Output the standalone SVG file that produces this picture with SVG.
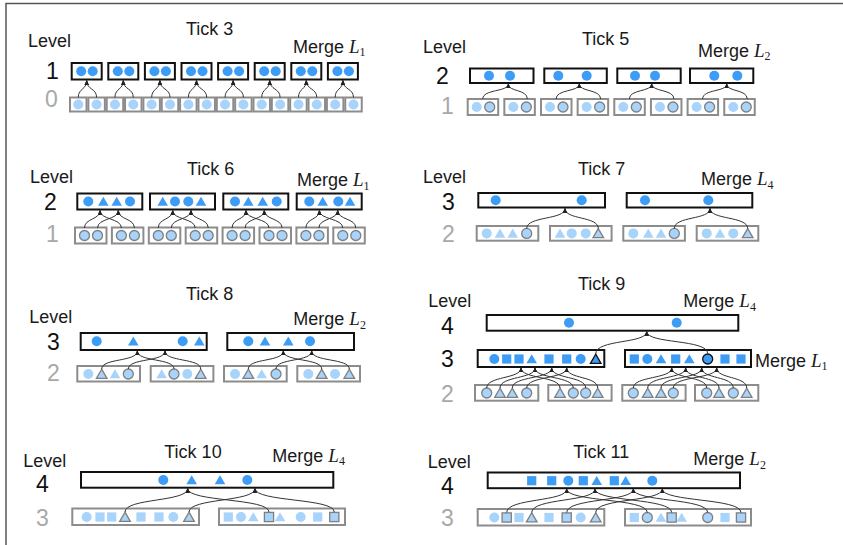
<svg xmlns="http://www.w3.org/2000/svg" width="843" height="545" viewBox="0 0 843 545">
<style>
.t{font-family:"Liberation Sans",Arial,sans-serif;font-size:18px;fill:#1a1a1a}
.m{font-family:"Liberation Serif","Times New Roman",serif;font-style:italic;font-size:19px}
.sb{font-family:"Liberation Serif","Times New Roman",serif;font-size:12px}
.n{font-family:"Liberation Sans",Arial,sans-serif;font-size:23px;fill:#111}
.ng{fill:#a8a8a8}
.bt{fill:#fff;stroke:#111;stroke-width:2}
.bl{fill:#fff;stroke:#8c8c8c;stroke-width:2}
.d{fill:#3d9cf5}
.ds{fill:#3d9cf5;stroke:#111;stroke-width:1.3}
.l{fill:#a8d3fb}
.ls{fill:#a8d3fb;stroke:#7f7f7f;stroke-width:1.3}
.cn{fill:none;stroke:#333;stroke-width:1;marker-end:url(#a)}
.fr{fill:none;stroke:#555;stroke-width:1.5}
</style>
<defs>
<marker id="a" viewBox="0 0 8 8" refX="7" refY="4" markerWidth="5" markerHeight="5" orient="auto" markerUnits="userSpaceOnUse"><path d="M0,0.5 L8,4 L0,7.5Z" fill="#222"/></marker>
<circle id="C" r="5"/>
<path id="T" d="M0,-4.8 L5.3,4.3 L-5.3,4.3Z"/>
<rect id="S" x="-4.6" y="-4.6" width="9.2" height="9.2"/>
</defs>
<path class="fr" d="M6,545 L6,3.5 L843,3.5"/>

<!-- Tick 3 -->
<g id="tick3-labels">
<text class="t" x="28" y="46.5">Level</text>
<text class="t" x="186" y="35">Tick 3</text>
<text class="t" x="293" y="52.5">Merge <tspan class="m">L</tspan><tspan class="sb" dy="3.5">1</tspan></text>
<text class="n" x="46" y="78.5">1</text>
<text class="n ng" x="45" y="107">0</text>
</g>
<g id="t3-L1-0"><rect class="bt" x="71.7" y="63" width="30" height="16.5"/><use href="#C" class="d" x="81.2" y="71.2"/><use href="#C" class="d" x="92.7" y="71.2"/></g>
<g id="t3-L1-1"><rect class="bt" x="108.3" y="63" width="30" height="16.5"/><use href="#C" class="d" x="117.8" y="71.2"/><use href="#C" class="d" x="129.3" y="71.2"/></g>
<g id="t3-L1-2"><rect class="bt" x="144.9" y="63" width="30" height="16.5"/><use href="#C" class="d" x="154.4" y="71.2"/><use href="#C" class="d" x="165.9" y="71.2"/></g>
<g id="t3-L1-3"><rect class="bt" x="181.5" y="63" width="30" height="16.5"/><use href="#C" class="d" x="191" y="71.2"/><use href="#C" class="d" x="202.5" y="71.2"/></g>
<g id="t3-L1-4"><rect class="bt" x="218.1" y="63" width="30" height="16.5"/><use href="#C" class="d" x="227.6" y="71.2"/><use href="#C" class="d" x="239.1" y="71.2"/></g>
<g id="t3-L1-5"><rect class="bt" x="254.7" y="63" width="30" height="16.5"/><use href="#C" class="d" x="264.2" y="71.2"/><use href="#C" class="d" x="275.7" y="71.2"/></g>
<g id="t3-L1-6"><rect class="bt" x="291.3" y="63" width="30" height="16.5"/><use href="#C" class="d" x="300.8" y="71.2"/><use href="#C" class="d" x="312.3" y="71.2"/></g>
<g id="t3-L1-7"><rect class="bt" x="327.9" y="63" width="30" height="16.5"/><use href="#C" class="d" x="337.4" y="71.2"/><use href="#C" class="d" x="348.9" y="71.2"/></g>
<g id="t3-L0">
<g id="t3-L0-0"><rect class="bl" x="70" y="97.5" width="16.5" height="14"/><use href="#C" class="l" x="78.25" y="104.5"/></g>
<g id="t3-L0-1"><rect class="bl" x="88.35" y="97.5" width="16.5" height="14"/><use href="#C" class="l" x="96.6" y="104.5"/></g>
<g id="t3-L0-2"><rect class="bl" x="106.7" y="97.5" width="16.5" height="14"/><use href="#C" class="l" x="114.95" y="104.5"/></g>
<g id="t3-L0-3"><rect class="bl" x="125.05" y="97.5" width="16.5" height="14"/><use href="#C" class="l" x="133.3" y="104.5"/></g>
<g id="t3-L0-4"><rect class="bl" x="143.4" y="97.5" width="16.5" height="14"/><use href="#C" class="l" x="151.65" y="104.5"/></g>
<g id="t3-L0-5"><rect class="bl" x="161.75" y="97.5" width="16.5" height="14"/><use href="#C" class="l" x="170" y="104.5"/></g>
<g id="t3-L0-6"><rect class="bl" x="180.1" y="97.5" width="16.5" height="14"/><use href="#C" class="l" x="188.35" y="104.5"/></g>
<g id="t3-L0-7"><rect class="bl" x="198.45" y="97.5" width="16.5" height="14"/><use href="#C" class="l" x="206.7" y="104.5"/></g>
<g id="t3-L0-8"><rect class="bl" x="216.8" y="97.5" width="16.5" height="14"/><use href="#C" class="l" x="225.05" y="104.5"/></g>
<g id="t3-L0-9"><rect class="bl" x="235.15" y="97.5" width="16.5" height="14"/><use href="#C" class="l" x="243.4" y="104.5"/></g>
<g id="t3-L0-10"><rect class="bl" x="253.5" y="97.5" width="16.5" height="14"/><use href="#C" class="l" x="261.75" y="104.5"/></g>
<g id="t3-L0-11"><rect class="bl" x="271.85" y="97.5" width="16.5" height="14"/><use href="#C" class="l" x="280.1" y="104.5"/></g>
<g id="t3-L0-12"><rect class="bl" x="290.2" y="97.5" width="16.5" height="14"/><use href="#C" class="l" x="298.45" y="104.5"/></g>
<g id="t3-L0-13"><rect class="bl" x="308.55" y="97.5" width="16.5" height="14"/><use href="#C" class="l" x="316.8" y="104.5"/></g>
<g id="t3-L0-14"><rect class="bl" x="326.9" y="97.5" width="16.5" height="14"/><use href="#C" class="l" x="335.15" y="104.5"/></g>
<g id="t3-L0-15"><rect class="bl" x="345.25" y="97.5" width="16.5" height="14"/><use href="#C" class="l" x="353.5" y="104.5"/></g>
</g>

<!-- Tick 5 -->
<g id="tick5-labels">
<text class="t" x="423" y="53.3">Level</text>
<text class="t" x="582" y="45">Tick 5</text>
<text class="t" x="698" y="56.7">Merge <tspan class="m">L</tspan><tspan class="sb" dy="3.5">2</tspan></text>
<text class="n" x="436" y="83.5">2</text>
<text class="n ng" x="441" y="113.5">1</text>
</g>
<g id="t5-L2-0"><rect class="bt" x="470" y="68.5" width="63.5" height="14.5"/><use href="#C" class="d" x="489" y="75.7"/><use href="#C" class="d" x="510" y="75.7"/></g>
<g id="t5-L2-1"><rect class="bt" x="544.3" y="68.5" width="62.5" height="14.5"/><use href="#C" class="d" x="558.3" y="75.7"/><use href="#C" class="d" x="586.7" y="75.7"/></g>
<g id="t5-L2-2"><rect class="bt" x="617.3" y="68.5" width="63.4" height="14.5"/><use href="#C" class="d" x="635" y="75.7"/><use href="#C" class="d" x="655" y="75.7"/></g>
<g id="t5-L2-3"><rect class="bt" x="690" y="68.5" width="63.3" height="14.5"/><use href="#C" class="d" x="714.3" y="75.7"/><use href="#C" class="d" x="737.3" y="75.7"/></g>
<g id="t5-L1-0"><rect class="bl" x="467.7" y="99" width="30.5" height="16"/><use href="#C" class="l" x="476.7" y="107"/><use href="#C" class="ls" x="489.7" y="107"/></g>
<g id="t5-L1-1"><rect class="bl" x="504.35" y="99" width="30.5" height="16"/><use href="#C" class="l" x="513.35" y="107"/><use href="#C" class="ls" x="526.35" y="107"/></g>
<g id="t5-L1-2"><rect class="bl" x="541" y="99" width="30.5" height="16"/><use href="#C" class="l" x="550" y="107"/><use href="#C" class="ls" x="563" y="107"/></g>
<g id="t5-L1-3"><rect class="bl" x="577.65" y="99" width="30.5" height="16"/><use href="#C" class="l" x="586.65" y="107"/><use href="#C" class="ls" x="599.65" y="107"/></g>
<g id="t5-L1-4"><rect class="bl" x="614.3" y="99" width="30.5" height="16"/><use href="#C" class="l" x="623.3" y="107"/><use href="#C" class="ls" x="636.3" y="107"/></g>
<g id="t5-L1-5"><rect class="bl" x="650.95" y="99" width="30.5" height="16"/><use href="#C" class="l" x="659.95" y="107"/><use href="#C" class="ls" x="672.95" y="107"/></g>
<g id="t5-L1-6"><rect class="bl" x="687.6" y="99" width="30.5" height="16"/><use href="#C" class="l" x="696.6" y="107"/><use href="#C" class="ls" x="709.6" y="107"/></g>
<g id="t5-L1-7"><rect class="bl" x="724.25" y="99" width="30.5" height="16"/><use href="#C" class="l" x="733.25" y="107"/><use href="#C" class="ls" x="746.25" y="107"/></g>

<!-- Tick 6 -->
<g id="tick6-labels">
<text class="t" x="30" y="183.3">Level</text>
<text class="t" x="187" y="175">Tick 6</text>
<text class="t" x="297" y="186">Merge <tspan class="m">L</tspan><tspan class="sb" dy="3.5">1</tspan></text>
<text class="n" x="44" y="210">2</text>
<text class="n ng" x="46" y="242">1</text>
</g>
<g id="t6-L2-0"><rect class="bt" x="77.3" y="193.5" width="65" height="16"/><use href="#C" class="d" x="88.3" y="201.5"/><use href="#T" class="d" x="103.3" y="201.5"/><use href="#T" class="d" x="116.7" y="201.5"/><use href="#C" class="d" x="130" y="201.5"/></g>
<g id="t6-L2-1"><rect class="bt" x="150" y="193.5" width="65" height="16"/><use href="#T" class="d" x="162.7" y="201.5"/><use href="#C" class="d" x="175" y="201.5"/><use href="#C" class="d" x="188.3" y="201.5"/><use href="#T" class="d" x="201" y="201.5"/></g>
<g id="t6-L2-2"><rect class="bt" x="223.3" y="193.5" width="65" height="16"/><use href="#C" class="d" x="235" y="201.5"/><use href="#T" class="d" x="248.3" y="201.5"/><use href="#T" class="d" x="262.7" y="201.5"/><use href="#C" class="d" x="276.7" y="201.5"/></g>
<g id="t6-L2-3"><rect class="bt" x="296.7" y="193.5" width="65" height="16"/><use href="#C" class="d" x="309.3" y="201.5"/><use href="#T" class="d" x="322.7" y="201.5"/><use href="#C" class="d" x="338.3" y="201.5"/><use href="#T" class="d" x="350" y="201.5"/></g>
<g id="t6-L1-0"><rect class="bl" x="75" y="227.5" width="31.5" height="16"/><use href="#C" class="ls" x="84.5" y="235.5"/><use href="#C" class="ls" x="97.5" y="235.5"/></g>
<g id="t6-L1-1"><rect class="bl" x="111.9" y="227.5" width="31.5" height="16"/><use href="#C" class="ls" x="121.4" y="235.5"/><use href="#C" class="ls" x="134.4" y="235.5"/></g>
<g id="t6-L1-2"><rect class="bl" x="148.8" y="227.5" width="31.5" height="16"/><use href="#C" class="ls" x="158.3" y="235.5"/><use href="#C" class="ls" x="171.3" y="235.5"/></g>
<g id="t6-L1-3"><rect class="bl" x="185.7" y="227.5" width="31.5" height="16"/><use href="#C" class="ls" x="195.2" y="235.5"/><use href="#C" class="ls" x="208.2" y="235.5"/></g>
<g id="t6-L1-4"><rect class="bl" x="222.6" y="227.5" width="31.5" height="16"/><use href="#C" class="ls" x="232.1" y="235.5"/><use href="#C" class="ls" x="245.1" y="235.5"/></g>
<g id="t6-L1-5"><rect class="bl" x="259.5" y="227.5" width="31.5" height="16"/><use href="#C" class="ls" x="269" y="235.5"/><use href="#C" class="ls" x="282" y="235.5"/></g>
<g id="t6-L1-6"><rect class="bl" x="296.4" y="227.5" width="31.5" height="16"/><use href="#C" class="ls" x="305.9" y="235.5"/><use href="#C" class="ls" x="318.9" y="235.5"/></g>
<g id="t6-L1-7"><rect class="bl" x="333.3" y="227.5" width="31.5" height="16"/><use href="#C" class="ls" x="342.8" y="235.5"/><use href="#C" class="ls" x="355.8" y="235.5"/></g>

<!-- Tick 7 -->
<g id="tick7-labels">
<text class="t" x="423" y="183.3">Level</text>
<text class="t" x="578" y="175">Tick 7</text>
<text class="t" x="701" y="185">Merge <tspan class="m">L</tspan><tspan class="sb" dy="3.5">4</tspan></text>
<text class="n" x="442" y="210">3</text>
<text class="n ng" x="442" y="242">2</text>
</g>
<g id="t7-L3-0"><rect class="bt" x="478.3" y="193" width="126.7" height="14.5"/><use href="#C" class="d" x="495.7" y="200.2"/><use href="#C" class="d" x="581.7" y="200.2"/></g>
<g id="t7-L3-1"><rect class="bt" x="626.7" y="193" width="125.6" height="14.5"/><use href="#C" class="d" x="645" y="200.2"/><use href="#C" class="d" x="708.3" y="200.2"/></g>
<g id="t7-L2-0"><rect class="bl" x="476.7" y="226" width="61.6" height="14.7"/><use href="#C" class="l" x="486.7" y="233.4"/><use href="#T" class="l" x="500" y="233.4"/><use href="#T" class="l" x="512.7" y="233.4"/><use href="#C" class="ls" x="526.7" y="233.4"/></g>
<g id="t7-L2-1"><rect class="bl" x="550" y="226" width="61.6" height="14.7"/><use href="#T" class="l" x="560" y="233.4"/><use href="#C" class="l" x="571.7" y="233.4"/><use href="#C" class="l" x="585.7" y="233.4"/><use href="#T" class="ls" x="598.3" y="233.4"/></g>
<g id="t7-L2-2"><rect class="bl" x="623.3" y="226" width="61.6" height="14.7"/><use href="#C" class="l" x="633.3" y="233.4"/><use href="#T" class="l" x="648.3" y="233.4"/><use href="#T" class="l" x="661" y="233.4"/><use href="#C" class="ls" x="674.3" y="233.4"/></g>
<g id="t7-L2-3"><rect class="bl" x="696.7" y="226" width="61.6" height="14.7"/><use href="#C" class="l" x="706.7" y="233.4"/><use href="#T" class="l" x="720" y="233.4"/><use href="#C" class="l" x="733.3" y="233.4"/><use href="#T" class="ls" x="747.7" y="233.4"/></g>

<!-- Tick 8 -->
<g id="tick8-labels">
<text class="t" x="186" y="300">Tick 8</text>
<text class="t" x="29.3" y="323.3">Level</text>
<text class="t" x="293.3" y="325">Merge <tspan class="m">L</tspan><tspan class="sb" dy="3.5">2</tspan></text>
<text class="n" x="47" y="350">3</text>
<text class="n ng" x="47" y="381">2</text>
</g>
<g id="t8-L3-0"><rect class="bt" x="80.7" y="333" width="126" height="17"/><use href="#C" class="d" x="96.7" y="341.3"/><use href="#T" class="d" x="133.3" y="341.3"/><use href="#C" class="d" x="182.7" y="341.3"/><use href="#T" class="d" x="199.3" y="341.3"/></g>
<g id="t8-L3-1"><rect class="bt" x="227.3" y="333" width="126.7" height="17"/><use href="#C" class="d" x="248.3" y="341.3"/><use href="#T" class="d" x="265" y="341.3"/><use href="#T" class="d" x="288.3" y="341.3"/><use href="#C" class="d" x="310" y="341.3"/></g>
<g id="t8-L2-0"><rect class="bl" x="77.3" y="366" width="62.7" height="15.5"/><use href="#C" class="l" x="88.3" y="374"/><use href="#T" class="ls" x="101.7" y="374"/><use href="#T" class="l" x="115" y="374"/><use href="#C" class="ls" x="128.3" y="374"/></g>
<g id="t8-L2-1"><rect class="bl" x="150.7" y="366" width="62.7" height="15.5"/><use href="#T" class="l" x="161.7" y="374"/><use href="#C" class="ls" x="174" y="374"/><use href="#C" class="l" x="187.3" y="374"/><use href="#T" class="ls" x="200.7" y="374"/></g>
<g id="t8-L2-2"><rect class="bl" x="224" y="366" width="62.7" height="15.5"/><use href="#C" class="l" x="235" y="374"/><use href="#T" class="ls" x="248.3" y="374"/><use href="#T" class="l" x="261.7" y="374"/><use href="#C" class="ls" x="276" y="374"/></g>
<g id="t8-L2-3"><rect class="bl" x="297.3" y="366" width="62.7" height="15.5"/><use href="#C" class="l" x="308.3" y="374"/><use href="#T" class="ls" x="321.7" y="374"/><use href="#C" class="l" x="335" y="374"/><use href="#T" class="ls" x="349.3" y="374"/></g>

<!-- Tick 9 -->
<g id="tick9-labels">
<text class="t" x="578" y="290">Tick 9</text>
<text class="t" x="428.3" y="307.3">Level</text>
<text class="t" x="683.3" y="307.3">Merge <tspan class="m">L</tspan><tspan class="sb" dy="3.5">4</tspan></text>
<text class="t" x="755" y="366.7">Merge <tspan class="m">L</tspan><tspan class="sb" dy="3.5">1</tspan></text>
<text class="n" x="441" y="333.5">4</text>
<text class="n" x="441" y="367">3</text>
<text class="n ng" x="441" y="402">2</text>
</g>
<g id="t9-L4"><rect class="bt" x="486.7" y="315" width="251.6" height="15.7"/><use href="#C" class="d" x="569" y="322.8"/><use href="#C" class="d" x="676.7" y="322.8"/></g>
<g id="t9-L3-0"><rect class="bt" x="477.7" y="350" width="126.6" height="17"/><use href="#C" class="d" x="494.3" y="359"/><use href="#S" class="d" x="506.7" y="359"/><use href="#S" class="d" x="519" y="359"/><use href="#T" class="d" x="531.7" y="359"/><use href="#S" class="d" x="549" y="359"/><use href="#S" class="d" x="566.7" y="359"/><use href="#C" class="d" x="580.7" y="359"/><use href="#T" class="ds" x="595.7" y="359"/></g>
<g id="t9-L3-1"><rect class="bt" x="625" y="350" width="126" height="17"/><use href="#S" class="d" x="634.3" y="359"/><use href="#C" class="d" x="647.3" y="359"/><use href="#T" class="d" x="661" y="359"/><use href="#S" class="d" x="675.7" y="359"/><use href="#T" class="d" x="689.3" y="359"/><use href="#C" class="ds" x="707.7" y="359"/><use href="#S" class="d" x="725" y="359"/><use href="#S" class="d" x="741" y="359"/></g>
<g id="t9-L2-0"><rect class="bl" x="475" y="385" width="63.3" height="15.7"/><use href="#C" class="ls" x="486.7" y="393"/><use href="#T" class="ls" x="500" y="393"/><use href="#T" class="ls" x="512.3" y="393"/><use href="#C" class="ls" x="526.7" y="393"/></g>
<g id="t9-L2-1"><rect class="bl" x="548.3" y="385" width="63.3" height="15.7"/><use href="#T" class="ls" x="560" y="393"/><use href="#C" class="ls" x="573.3" y="393"/><use href="#C" class="ls" x="585.7" y="393"/><use href="#T" class="ls" x="597.7" y="393"/></g>
<g id="t9-L2-2"><rect class="bl" x="622.3" y="385" width="63.3" height="15.7"/><use href="#C" class="ls" x="633.3" y="393"/><use href="#T" class="ls" x="647.7" y="393"/><use href="#T" class="ls" x="661" y="393"/><use href="#C" class="ls" x="673.3" y="393"/></g>
<g id="t9-L2-3"><rect class="bl" x="695" y="385" width="63.3" height="15.7"/><use href="#C" class="ls" x="706.7" y="393"/><use href="#T" class="ls" x="719" y="393"/><use href="#C" class="ls" x="733.3" y="393"/><use href="#T" class="ls" x="746.7" y="393"/></g>

<!-- Tick 10 -->
<g id="tick10-labels">
<text class="t" x="164.3" y="458.3">Tick 10</text>
<text class="t" x="23.3" y="466.7">Level</text>
<text class="t" x="272.3" y="461.7">Merge <tspan class="m">L</tspan><tspan class="sb" dy="3.5">4</tspan></text>
<text class="n" x="36" y="492">4</text>
<text class="n ng" x="36" y="525.5">3</text>
</g>
<g id="t10-L4"><rect class="bt" x="81" y="472" width="252.3" height="15.7"/><use href="#C" class="d" x="163.3" y="480"/><use href="#T" class="d" x="191.7" y="480"/><use href="#T" class="d" x="220" y="480"/><use href="#C" class="d" x="247.3" y="480"/></g>
<g id="t10-L3-0"><rect class="bl" x="72.3" y="508.5" width="126.7" height="16.5"/><use href="#C" class="l" x="86.7" y="517"/><use href="#S" class="l" x="100" y="517"/><use href="#S" class="l" x="111.7" y="517"/><use href="#T" class="ls" x="125" y="517"/><use href="#S" class="l" x="141" y="517"/><use href="#S" class="l" x="159" y="517"/><use href="#C" class="l" x="173.3" y="517"/><use href="#T" class="ls" x="189" y="517"/></g>
<g id="t10-L3-1"><rect class="bl" x="219" y="508.5" width="126" height="16.5"/><use href="#S" class="l" x="228.3" y="517"/><use href="#C" class="l" x="241" y="517"/><use href="#T" class="l" x="253.3" y="517"/><use href="#S" class="ls" x="269" y="517"/><use href="#T" class="l" x="280" y="517"/><use href="#C" class="l" x="300.7" y="517"/><use href="#S" class="l" x="317.7" y="517"/><use href="#S" class="ls" x="334.3" y="517"/></g>

<!-- Tick 11 -->
<g id="tick11-labels">
<text class="t" x="573.3" y="458.3">Tick 11</text>
<text class="t" x="427.7" y="468.3">Level</text>
<text class="t" x="693.3" y="465">Merge <tspan class="m">L</tspan><tspan class="sb" dy="3.5">2</tspan></text>
<text class="n" x="441" y="493.5">4</text>
<text class="n ng" x="441" y="526">3</text>
</g>
<g id="t11-L4"><rect class="bt" x="487.7" y="472.5" width="252.3" height="15.7"/><use href="#S" class="d" x="531.7" y="480.7"/><use href="#S" class="d" x="551.7" y="480.7"/><use href="#C" class="d" x="568.3" y="480.7"/><use href="#S" class="d" x="583.3" y="480.7"/><use href="#T" class="d" x="596.7" y="480.7"/><use href="#S" class="d" x="614.3" y="480.7"/><use href="#T" class="d" x="625.7" y="480.7"/><use href="#C" class="d" x="652.3" y="480.7"/></g>
<g id="t11-L3-0"><rect class="bl" x="477.7" y="509" width="126.6" height="16.5"/><use href="#C" class="l" x="494.3" y="517.5"/><use href="#S" class="ls" x="506.7" y="517.5"/><use href="#S" class="l" x="519" y="517.5"/><use href="#T" class="ls" x="531.7" y="517.5"/><use href="#S" class="l" x="549" y="517.5"/><use href="#S" class="ls" x="566.7" y="517.5"/><use href="#C" class="l" x="580.7" y="517.5"/><use href="#T" class="ls" x="595.7" y="517.5"/></g>
<g id="t11-L3-1"><rect class="bl" x="625" y="509" width="126" height="16.5"/><use href="#S" class="l" x="634.3" y="517.5"/><use href="#C" class="ls" x="647.3" y="517.5"/><use href="#T" class="l" x="661" y="517.5"/><use href="#S" class="ls" x="671.7" y="517.5"/><use href="#T" class="l" x="681.7" y="517.5"/><use href="#C" class="ls" x="707.7" y="517.5"/><use href="#S" class="l" x="725" y="517.5"/><use href="#S" class="ls" x="741" y="517.5"/></g>

<g id="connectors">
<!-- tick 3 -->
<path class="cn" d="M78.25,97.5 C78.25,88 86.7,90 86.7,80.5"/><path class="cn" d="M96.6,97.5 C96.6,88 86.7,90 86.7,80.5"/>
<path class="cn" d="M114.95,97.5 C114.95,88 123.3,90 123.3,80.5"/><path class="cn" d="M133.3,97.5 C133.3,88 123.3,90 123.3,80.5"/>
<path class="cn" d="M151.65,97.5 C151.65,88 159.9,90 159.9,80.5"/><path class="cn" d="M170,97.5 C170,88 159.9,90 159.9,80.5"/>
<path class="cn" d="M188.35,97.5 C188.35,88 196.5,90 196.5,80.5"/><path class="cn" d="M206.7,97.5 C206.7,88 196.5,90 196.5,80.5"/>
<path class="cn" d="M225.05,97.5 C225.05,88 233.1,90 233.1,80.5"/><path class="cn" d="M243.4,97.5 C243.4,88 233.1,90 233.1,80.5"/>
<path class="cn" d="M261.75,97.5 C261.75,88 269.7,90 269.7,80.5"/><path class="cn" d="M280.1,97.5 C280.1,88 269.7,90 269.7,80.5"/>
<path class="cn" d="M298.45,97.5 C298.45,88 306.3,90 306.3,80.5"/><path class="cn" d="M316.8,97.5 C316.8,88 306.3,90 306.3,80.5"/>
<path class="cn" d="M335.15,97.5 C335.15,88 342.9,90 342.9,80.5"/><path class="cn" d="M353.5,97.5 C353.5,88 342.9,90 342.9,80.5"/>
<!-- tick 5 -->
<path class="cn" d="M482.7,99 C482.7,89 508.3,92 508.3,84"/><path class="cn" d="M527.35,99 C527.35,89 508.3,92 508.3,84"/>
<path class="cn" d="M556,99 C556,89 579.3,92 579.3,84"/><path class="cn" d="M600.65,99 C600.65,89 579.3,92 579.3,84"/>
<path class="cn" d="M629.3,99 C629.3,89 651.7,92 651.7,84"/><path class="cn" d="M673.95,99 C673.95,89 651.7,92 651.7,84"/>
<path class="cn" d="M702.6,99 C702.6,89 726.7,92 726.7,84"/><path class="cn" d="M747.25,99 C747.25,89 726.7,92 726.7,84"/>
<!-- tick 6 -->
<path class="cn" d="M84.5,228 C84.5,218 100,220 100,210.5"/><path class="cn" d="M121.4,228 C121.4,218 100,220 100,210.5"/>
<path class="cn" d="M97.5,228 C97.5,218 118.3,220 118.3,210.5"/><path class="cn" d="M134.4,228 C134.4,218 118.3,220 118.3,210.5"/>
<path class="cn" d="M158.3,228 C158.3,218 172.7,220 172.7,210.5"/><path class="cn" d="M195.2,228 C195.2,218 172.7,220 172.7,210.5"/>
<path class="cn" d="M171.3,228 C171.3,218 191,220 191,210.5"/><path class="cn" d="M208.2,228 C208.2,218 191,220 191,210.5"/>
<path class="cn" d="M232.1,228 C232.1,218 246,220 246,210.5"/><path class="cn" d="M269,228 C269,218 246,220 246,210.5"/>
<path class="cn" d="M245.1,228 C245.1,218 264.3,220 264.3,210.5"/><path class="cn" d="M282,228 C282,218 264.3,220 264.3,210.5"/>
<path class="cn" d="M305.9,228 C305.9,218 319.4,220 319.4,210.5"/><path class="cn" d="M342.8,228 C342.8,218 319.4,220 319.4,210.5"/>
<path class="cn" d="M318.9,228 C318.9,218 337.7,220 337.7,210.5"/><path class="cn" d="M355.8,228 C355.8,218 337.7,220 337.7,210.5"/>
<!-- tick 7 -->
<path class="cn" d="M526.7,228.5 C526.7,216 565,220 565,208.5"/><path class="cn" d="M598.3,228.5 C598.3,216 565,220 565,208.5"/>
<path class="cn" d="M674.3,228.5 C674.3,216 710,220 710,208.5"/><path class="cn" d="M747.7,228.5 C747.7,216 710,220 710,208.5"/>
<!-- tick 8 -->
<path class="cn" d="M101.7,369 C101.7,358 137.3,362 137.3,351"/><path class="cn" d="M174,369 C174,358 137.3,362 137.3,351"/>
<path class="cn" d="M128.3,369 C128.3,358 165,362 165,351"/><path class="cn" d="M200.7,369 C200.7,358 165,362 165,351"/>
<path class="cn" d="M248.3,369 C248.3,358 283.3,362 283.3,351"/><path class="cn" d="M321.7,369 C321.7,358 283.3,362 283.3,351"/>
<path class="cn" d="M276,369 C276,358 311.7,362 311.7,351"/><path class="cn" d="M349.3,369 C349.3,358 311.7,362 311.7,351"/>
<!-- tick 9 level 2 to 3 -->
<path class="cn" d="M486.7,388 C486.7,376 521,379 521,368"/><path class="cn" d="M560,388 C560,376 521,379 521,368"/>
<path class="cn" d="M500,388 C500,376 535,379 535,368"/><path class="cn" d="M573.3,388 C573.3,376 535,379 535,368"/>
<path class="cn" d="M512.3,388 C512.3,376 551.7,379 551.7,368"/><path class="cn" d="M585.7,388 C585.7,376 551.7,379 551.7,368"/>
<path class="cn" d="M526.7,388 C526.7,376 566.7,379 566.7,368"/><path class="cn" d="M597.7,388 C597.7,376 566.7,379 566.7,368"/>
<path class="cn" d="M633.3,388 C633.3,376 671.7,379 671.7,368"/><path class="cn" d="M706.7,388 C706.7,376 671.7,379 671.7,368"/>
<path class="cn" d="M647.7,388 C647.7,376 685.7,379 685.7,368"/><path class="cn" d="M719,388 C719,376 685.7,379 685.7,368"/>
<path class="cn" d="M661,388 C661,376 701.7,379 701.7,368"/><path class="cn" d="M733.3,388 C733.3,376 701.7,379 701.7,368"/>
<path class="cn" d="M673.3,388 C673.3,376 716.7,379 716.7,368"/><path class="cn" d="M746.7,388 C746.7,376 716.7,379 716.7,368"/>
<!-- tick 9 level 3 to 4 -->
<path class="cn" d="M595.7,354 C595.7,339 646.7,344 646.7,331.5"/><path class="cn" d="M707.7,353.5 C707.7,339 646.7,344 646.7,331.5"/>
<!-- tick 10 -->
<path class="cn" d="M125,512 C125,498 187.7,502 187.7,488.5"/><path class="cn" d="M269,512 C269,498 187.7,502 187.7,488.5"/>
<path class="cn" d="M189,512 C189,498 255,502 255,488.5"/><path class="cn" d="M334.3,512 C334.3,498 255,502 255,488.5"/>
<!-- tick 11 -->
<path class="cn" d="M506.7,512.5 C506.7,498 566.7,502 566.7,489"/><path class="cn" d="M647.3,512.5 C647.3,498 566.7,502 566.7,489"/>
<path class="cn" d="M531.7,512.5 C531.7,498 595,502 595,489"/><path class="cn" d="M671.7,512.5 C671.7,498 595,502 595,489"/>
<path class="cn" d="M566.7,512.5 C566.7,498 633.3,502 633.3,489"/><path class="cn" d="M707.7,512.5 C707.7,498 633.3,502 633.3,489"/>
<path class="cn" d="M595.7,512.5 C595.7,498 662.3,502 662.3,489"/><path class="cn" d="M741,512.5 C741,498 662.3,502 662.3,489"/>
</g>
</svg>
